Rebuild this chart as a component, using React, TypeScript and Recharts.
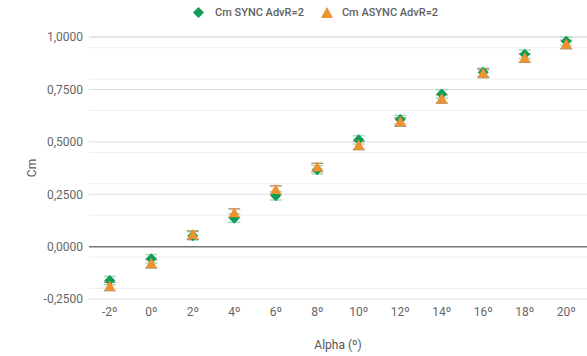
import React from 'react';
import {
  ScatterChart, Scatter, XAxis, YAxis, CartesianGrid, Legend,
  ReferenceLine, ErrorBar,
} from 'recharts';

const alpha = [-2, 0, 2, 4, 6, 8, 10, 12, 14, 16, 18, 20];
const cmSync = [-0.162, -0.058, 0.052, 0.136, 0.243, 0.367, 0.51, 0.607, 0.729, 0.833, 0.919, 0.981];
const cmAsync = [-0.19, -0.082, 0.055, 0.16, 0.27, 0.378, 0.483, 0.595, 0.705, 0.827, 0.9, 0.965];
const errSync = [0.02, 0.02, 0.02, 0.02, 0.02, 0.02, 0.02, 0.02, 0.02, 0.02, 0.02, 0.02];
const errAsync = [0.02, 0.02, 0.02, 0.02, 0.02, 0.02, 0.02, 0.02, 0.02, 0.02, 0.02, 0.02];

const cmTicks = [-0.25, 0, 0.25, 0.5, 0.75, 1];
const cmMinor = [
  -0.2, -0.15, -0.1, -0.05, 0.05, 0.1, 0.15, 0.2, 0.3, 0.35, 0.4, 0.45,
  0.55, 0.6, 0.65, 0.7, 0.8, 0.85, 0.9, 0.95,
];

const syncData = alpha.map((a, i) => ({ alpha: a, cm: cmSync[i], err: errSync[i] }));
const asyncData = alpha.map((a, i) => ({ alpha: a, cm: cmAsync[i], err: errAsync[i] }));

const GREEN = '#0f9d58';
const ORANGE = '#ee922f';

const fmtCm = (v: number) => v.toFixed(4).replace('.', ',');

// small fixed-size markers
const Diamond = (p: any) => (
  <polygon
    points={`${p.cx},${p.cy - 5.5} ${p.cx + 5.5},${p.cy} ${p.cx},${p.cy + 5.5} ${p.cx - 5.5},${p.cy}`}
    fill={GREEN}
  />
);
const Triangle = (p: any) => (
  <polygon
    points={`${p.cx},${p.cy - 6} ${p.cx + 5.5},${p.cy + 4} ${p.cx - 5.5},${p.cy + 4}`}
    fill={ORANGE}
  />
);

function LegendContent() {
  return (
    <div style={{ display: 'flex', alignItems: 'center', fontSize: 11, fontWeight: 500, color: '#5f5f5f' }}>
      <svg width={11} height={11} style={{ marginRight: 11 }}>
        <polygon points="5.5,0 11,5.5 5.5,11 0,5.5" fill={GREEN} />
      </svg>
      <span style={{ marginRight: 17 }}>Cm SYNC AdvR=2</span>
      <svg width={12} height={11} style={{ marginRight: 9 }}>
        <polygon points="6,0 12,11 0,11" fill={ORANGE} />
      </svg>
      <span>Cm ASYNC AdvR=2</span>
    </div>
  );
}

export default function App() {
  return (
    <div style={{ fontFamily: 'Roboto, sans-serif' }}>
      <style>{'body{margin:0}'}</style>
      <ScatterChart width={587} height={356} margin={{ top: 5, right: 0, bottom: 0, left: 0 }}>
        <CartesianGrid vertical={false} horizontalValues={cmMinor} stroke="#eeeeee" />
        <CartesianGrid vertical={false} stroke="#dcdcdc" />
        <XAxis
          type="number"
          dataKey="alpha"
          domain={[-3, 21]}
          ticks={alpha}
          tickFormatter={(v: number) => `${v}º`}
          axisLine={false}
          tickLine={false}
          height={57}
          tick={{ fill: '#666', fontSize: 12 }}
          label={{ value: 'Alpha (º)', position: 'insideBottom', offset: 7, fill: '#555', fontSize: 12 }}
        />
        <YAxis
          type="number"
          dataKey="cm"
          domain={[-0.25, 1]}
          ticks={cmTicks}
          tickFormatter={fmtCm}
          axisLine={false}
          tickLine={false}
          tickMargin={0}
          width={89}
          tick={{ fill: '#666', fontSize: 12 }}
          label={{ value: 'Cm', angle: -90, position: 'insideLeft', offset: 32, fill: '#555', fontSize: 12, style: { textAnchor: 'middle' } }}
        />
        <ReferenceLine y={0} stroke="#777" strokeWidth={1.5} />
        <Legend verticalAlign="top" height={32} content={<LegendContent />} wrapperStyle={{ left: 193, width: 'auto', top: 6 }} />
        <Scatter name="Cm SYNC AdvR=2" data={syncData} fill={GREEN} shape={Diamond} isAnimationActive={false}>
          <ErrorBar dataKey="err" direction="y" width={6} stroke="#a8dbbd" strokeWidth={1.5} />
        </Scatter>
        <Scatter name="Cm ASYNC AdvR=2" data={asyncData} fill={ORANGE} shape={Triangle} isAnimationActive={false}>
          <ErrorBar dataKey="err" direction="y" width={6} stroke="#b89474" strokeWidth={1.5} />
        </Scatter>
      </ScatterChart>
    </div>
  );
}
